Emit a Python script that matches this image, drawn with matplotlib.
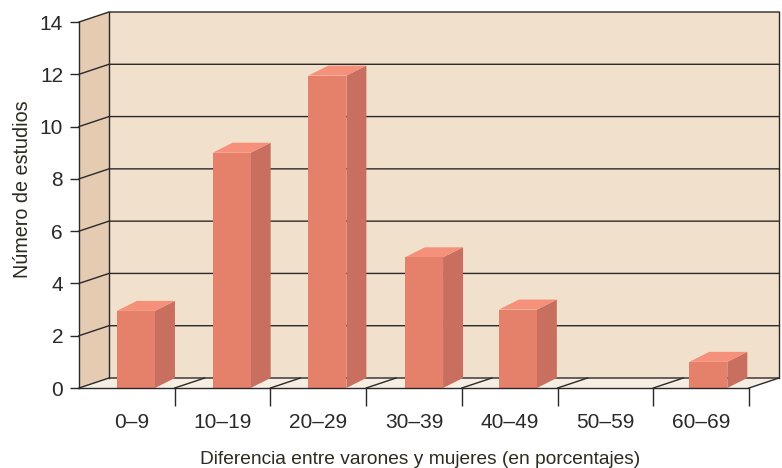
import matplotlib
matplotlib.use('Agg')
import matplotlib.pyplot as plt
from matplotlib.transforms import ScaledTranslation

categories = ['0–9', '10–19', '20–29', '30–39', '40–49', '50–59', '60–69']
estudios = [2.95, 9, 11.95, 5, 3, 0, 1]
yticks = [0, 2, 4, 6, 8, 10, 12, 14]

W, H = 782, 468
# plot box of the front plane, in pixels
left, right, bottom, top = 79, 749, 388, 22
cat_px = (right - left) / len(categories)
val_px = (bottom - top) / 14

# depth of the fake 3d, in data units
DX = 30 / cat_px
DY = 10 / val_px
BAR_DX = 20 / cat_px
BAR_DY = 10 / val_px
BAR_W = 38 / cat_px
BAR_SHIFT = [0.095, 0.095, 0.095, 0.105, 0.085, 0.095, 0.075]

INK = '#2b2829'
WALL = '#f1e1cc'
SIDE = '#e4cbb2'
FLOOR = '#f6eee2'
FRONT = '#e5816b'
DARK = '#c96f5f'
LIGHT = '#f5917a'

plt.rcParams['font.family'] = ['Liberation Sans', 'DejaVu Sans']

fig = plt.figure(figsize=(W / 100, H / 100), dpi=100)
ax = fig.add_axes([left / W, 1 - bottom / H, (right - left) / W, (bottom - top) / H])
ax.set_xlim(-0.5, 6.5)
ax.set_ylim(0, 14)
ax.patch.set_visible(False)

x0, x1 = -0.5, 6.5

# back wall, side wall and floor
ax.fill([x0 + DX, x1 + DX, x1 + DX, x0 + DX], [DY, DY, 14 + DY, 14 + DY],
        color=WALL, lw=0, clip_on=False, zorder=1)
ax.fill([x0, x0 + DX, x0 + DX, x0], [0, DY, 14 + DY, 14],
        color=SIDE, lw=0, clip_on=False, zorder=1)
ax.fill([x0, x1, x1 + DX, x0 + DX], [0, 0, DY, DY],
        color=FLOOR, lw=0, clip_on=False, zorder=1)

# grid lines on both walls
for v in yticks:
    ax.plot([x0, x0 + DX, x1 + DX], [v, v + DY, v + DY], color=INK, lw=1.0,
            clip_on=False, zorder=2, solid_joinstyle='miter')
ax.plot([x0 + DX, x0 + DX], [DY, 14 + DY], color=INK, lw=1.0, clip_on=False, zorder=2)
ax.plot([x1 + DX, x1 + DX], [DY, 14 + DY], color=INK, lw=1.0, clip_on=False, zorder=2)

# floor dividers
for i in range(len(categories)):
    ax.plot([i + 0.5, i + 0.5 + DX], [0, DY], color=INK, lw=1.0, clip_on=False, zorder=2)

# bars
for i, v in enumerate(estudios):
    if v == 0:
        continue
    a = i + BAR_SHIFT[i] - BAR_W / 2
    b = a + BAR_W
    ax.fill([b, b + BAR_DX, b + BAR_DX, b], [0, BAR_DY, v + BAR_DY, v],
            color=DARK, lw=0, clip_on=False, zorder=3)
    ax.fill([a, b, b + BAR_DX, a + BAR_DX], [v, v, v + BAR_DY, v + BAR_DY],
            color=LIGHT, lw=0, clip_on=False, zorder=3)
    ax.bar(i + BAR_SHIFT[i], v, BAR_W, color=FRONT, lw=0, zorder=3)

for s in ['top', 'right']:
    ax.spines[s].set_visible(False)
for s in ['left', 'bottom']:
    ax.spines[s].set_color(INK)
    ax.spines[s].set_linewidth(1.0)
    ax.spines[s].set_zorder(4)

ax.set_yticks(yticks)
ax.tick_params(axis='y', length=6.5, width=1.0, color=INK, labelcolor=INK,
               labelsize=15, pad=5)

# labels sit on the category centres, ticks on the boundaries
ax.set_xticks(range(len(categories)))
ax.set_xticklabels(categories)
ax.tick_params(axis='x', which='major', length=0, labelcolor=INK, labelsize=15, pad=18)
ax.set_xticks([i + 0.5 for i in range(len(categories))], minor=True)
ax.tick_params(axis='x', which='minor', length=13, width=1.0, color=INK)
first = ax.get_xticklabels()[0]
first.set_transform(first.get_transform() + ScaledTranslation(5 / 100, 0, fig.dpi_scale_trans))

fig.text(420 / W, 1 - 459 / H, 'Diferencia entre varones y mujeres (en porcentajes)',
         fontsize=13.75, color='#2e2a1f', ha='center', va='center')
fig.text(23 / W, 1 - 189 / H, 'Número de estudios',
         fontsize=14.2, color='#2e2a1f', rotation=90, ha='center', va='center')

fig.savefig('out.png', dpi=100)
